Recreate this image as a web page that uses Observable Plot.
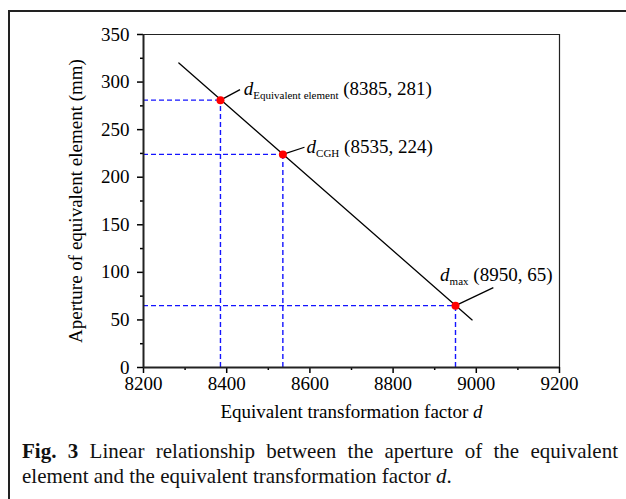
<!DOCTYPE html>
<html><head><meta charset="utf-8">
<script src="https://cdn.jsdelivr.net/npm/d3@7"></script>
<script src="https://cdn.jsdelivr.net/npm/@observablehq/plot@0.6"></script>
<style>
body{margin:0;background:#fff;font-family:"Liberation Serif","Times New Roman",serif;}
#wrap{position:relative;width:626px;height:499px;overflow:hidden;background:#fff;}
#box{position:absolute;left:8px;top:10px;width:700px;height:600px;border:2px solid #222;box-sizing:border-box;}
#chart{position:absolute;left:0;top:0;}
#caption{position:absolute;left:22px;top:439px;width:596px;font-size:21px;line-height:25px;text-align:justify;color:#111;}
</style></head>
<body><div id="wrap"><div id="box"></div><div id="chart"></div><div id="caption"></div></div>
<script>
const xMajor = [8200, 8400, 8600, 8800, 9000, 9200];
const xMinor = [8300, 8500, 8700, 8900, 9100];
const yMajor = [0, 50, 100, 150, 200, 250, 300, 350];
const yMinor = [25, 75, 125, 175, 225, 275, 325];
const fitX = [8285, 8990];
const fitY = [320, 50];
const pointX = [8385, 8535, 8950];
const pointY = [281, 224, 65];
const pointName = ["Equivalent element", "CGH", "max"];
const leaderX = [8432, 8587, 9041];
const leaderY = [292, 231.5, 84];
const labelX = [8441, 8592, 8913];
const labelY = [293, 232, 97];
const xLabel = "Equivalent transformation factor d";
const yLabel = "Aperture of equivalent element (mm)";
const captionBold = "Fig. 3";
const captionText = " Linear relationship between the aperture of the equivalent element and the equivalent transformation factor ";

const fit = fitX.map((x, i) => ({x, y: fitY[i]}));
const pts = pointX.map((x, i) => ({x, y: pointY[i], name: pointName[i], lx: leaderX[i], ly: leaderY[i], tx: labelX[i], ty: labelY[i]}));

const blue = "#1414ff";
const chart = Plot.plot({
  width: 626, height: 430,
  marginLeft: 143, marginRight: 67, marginTop: 34, marginBottom: 63,
  x: {domain: [8200, 9200]},
  y: {domain: [0, 350]},
  style: {fontFamily: "'Liberation Serif', serif", fontSize: "19px", color: "#000", background: "transparent", overflow: "visible"},
  marks: [
    Plot.ruleY(pts, {y: "y", x1: 8200, x2: "x", stroke: blue, strokeWidth: 1.4, strokeDasharray: "5,3"}),
    Plot.ruleX(pts, {x: "x", y1: 0, y2: "y", stroke: blue, strokeWidth: 1.4, strokeDasharray: "5,3"}),
    Plot.line(fit, {x: "x", y: "y", stroke: "#000", strokeWidth: 1.3}),
    Plot.link(pts, {x1: "x", y1: "y", x2: "lx", y2: "ly", stroke: "#000", strokeWidth: 1.3}),
    Plot.dot(pts, {x: "x", y: "y", r: 4, fill: "#ff0000"}),
    Plot.text(pts, {x: "tx", y: "ty", text: d => `d_${d.name}_ (${d.x}, ${d.y})`, textAnchor: "start", fill: "#000"}),
    Plot.ruleX([9200], {stroke: "#222", strokeWidth: 1.2}),
    Plot.ruleY([350], {stroke: "#222", strokeWidth: 1.2}),
    Plot.axisX({ticks: xMajor, tickSize: 6, tickPadding: 3, tickFormat: d => String(d), label: null, stroke: "#000", strokeWidth: 1.5}),
    Plot.axisX({ticks: xMinor, tickSize: 3, tickFormat: () => "", label: null, stroke: "#000", strokeWidth: 1.5}),
    Plot.axisY({ticks: yMajor, tickSize: 6, tickPadding: 8, tickFormat: d => String(d), label: null, stroke: "#000", strokeWidth: 1.5}),
    Plot.axisY({ticks: yMinor, tickSize: 3, tickFormat: () => "", label: null, stroke: "#000", strokeWidth: 1.5}),
    Plot.ruleX([8200], {stroke: "#222", strokeWidth: 2}),
    Plot.ruleY([0], {stroke: "#222", strokeWidth: 2}),
    Plot.text([xLabel], {frameAnchor: "bottom", dy: 44, lineAnchor: "middle", textAnchor: "middle", fill: "#000"}),
    Plot.text([yLabel], {frameAnchor: "left", dx: -68, rotate: -90, textAnchor: "middle", lineAnchor: "middle", fill: "#000"})
  ]
});
document.getElementById("chart").appendChild(chart);

// rich text: italic d with subscripts
const svgns = "http://www.w3.org/2000/svg";
chart.querySelectorAll("text").forEach(el => {
  const s = el.textContent;
  if (s.includes("_")) {
    const parts = s.split("_");
    el.textContent = "";
    const t1 = document.createElementNS(svgns, "tspan");
    t1.setAttribute("font-style", "italic"); t1.textContent = parts[0];
    const t2 = document.createElementNS(svgns, "tspan");
    t2.setAttribute("font-size", "11px"); t2.setAttribute("dy", "4"); t2.textContent = parts[1];
    const t3 = document.createElementNS(svgns, "tspan");
    t3.setAttribute("dy", "-4"); t3.textContent = parts[2];
    el.append(t1, t2, t3);
  } else if (s === xLabel) {
    const i = s.lastIndexOf(" ");
    el.textContent = s.slice(0, i + 1);
    const t = document.createElementNS(svgns, "tspan");
    t.setAttribute("font-style", "italic"); t.textContent = s.slice(i + 1);
    el.append(t);
  }
});
const cap = document.getElementById("caption");
const b = document.createElement("b"); b.textContent = captionBold;
const it = document.createElement("i"); it.textContent = "d";
cap.append(b, document.createTextNode(captionText), it, document.createTextNode("."));
</script>
</body></html>
